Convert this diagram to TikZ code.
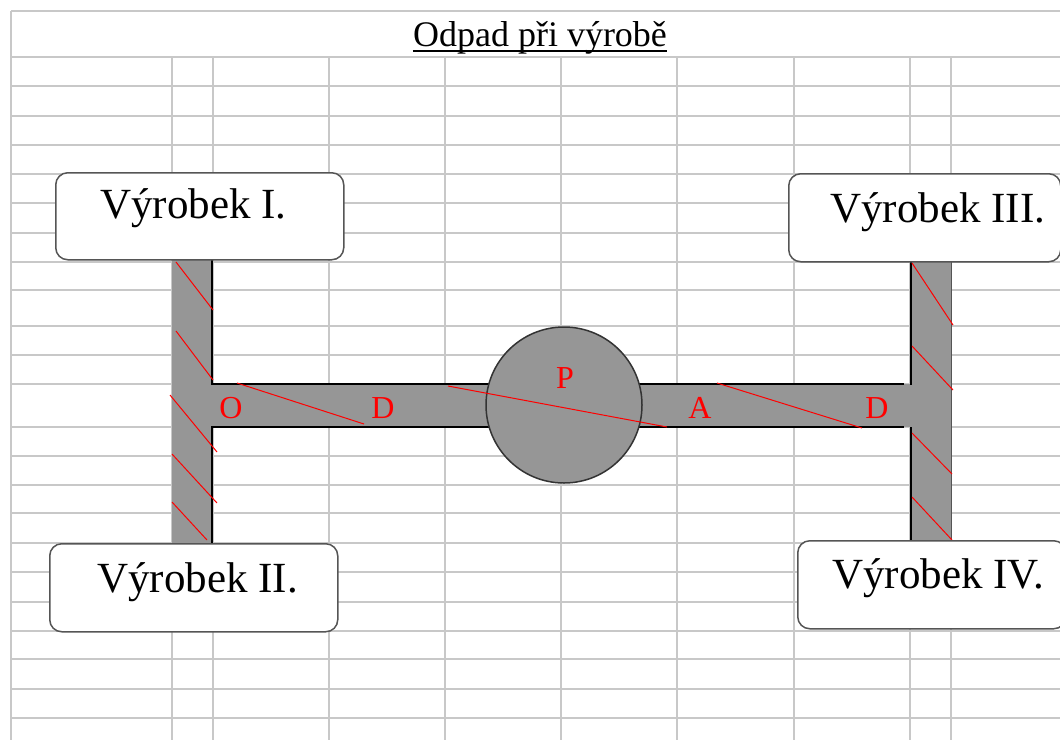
\documentclass[tikz,border=0pt]{standalone}
\usepackage{fontspec}
\setmainfont{Liberation Serif}
\definecolor{gridgray}{RGB}{200,200,200}
\definecolor{pipegray}{RGB}{150,150,150}
\definecolor{boxline}{RGB}{85,85,85}
\begin{document}
\begin{tikzpicture}[x=1pt,y=-1pt,
  gridline/.style={draw=gridgray, line width=1.8pt},
  vgridline/.style={draw=gridgray, line width=1.4pt},
  pipe/.style={fill=pipegray, draw=none},
  edgeline/.style={draw=black, line width=2.4pt},
  hatch/.style={draw=red, line width=1pt},
  box/.style={draw=boxline, line width=1.5pt, fill=white, rounded corners=12pt, inner sep=0, anchor=north west},
  boxtext/.style={font=\fontsize{43}{48}\selectfont, anchor=base west, inner sep=0},
  redlbl/.style={font=\fontsize{32}{36}\selectfont, text=red, anchor=base, inner sep=0}
]
% canvas
\fill[white] (0,0) rectangle (1060,740);
\useasboundingbox (0,0) rectangle (1060,740);

% grid
\draw[gridline] (11,11) -- (1060,11);
\foreach \yy in {57,86,116,145,174,203,233,262,290,326,355,384,427,456,485,513,543,572,602,631,659,689,718}
  \draw[gridline] (11,\yy) -- (1060,\yy);
\draw[gridline] (11,11) -- (11,740);
\foreach \xx in {172,213,329,445,561,677,794,910,951}
  \draw[vgridline] (\xx,57) -- (\xx,740);

% title
\node[font=\fontsize{36}{40}\selectfont, anchor=base, inner sep=0] (title) at (540,46) {Odpad při výrobě};
\draw[line width=1.8pt] ([yshift=-5pt]title.base west) -- ([yshift=-5pt]title.base east);

% pipes
\fill[pipe] (172,250) rectangle (212,550);
\fill[pipe] (212,384) rectangle (500,427);
\fill[pipe] (630,384) rectangle (911,427);
\fill[pipe] (911,250) rectangle (951,550);

% pipe outlines
\draw[edgeline] (212,255) -- (212,384);
\draw[edgeline] (212,427) -- (212,545);
\draw[edgeline] (211,384) -- (540,384);
\draw[edgeline] (211,427) -- (540,427);
\draw[edgeline] (590,384) -- (904,384);
\draw[edgeline] (590,427) -- (904,427);
\draw[edgeline] (911,255) -- (911,385);
\draw[edgeline] (911,427) -- (911,545);
\draw[draw=boxline, line width=1pt] (951,255) -- (951,545);

% central circle
\node[circle, fill=pipegray, draw=black!80, line width=1.5pt, minimum size=156pt, inner sep=0] (p) at (564,405) {};

% hatching
\draw[hatch] (176,262) -- (213,310);
\draw[hatch] (176,331) -- (213,380);
\draw[hatch] (170,395) -- (217,452);
\draw[hatch] (172,454) -- (217,503);
\draw[hatch] (172,502) -- (207,540);
\draw[hatch] (237,383) -- (364,424);
\draw[hatch] (448,386) -- (667,427);
\draw[hatch] (717,383) -- (862,428);
\draw[hatch] (912,263) -- (953,325);
\draw[hatch] (912,346) -- (953,390);
\draw[hatch] (912,433) -- (952,474);
\draw[hatch] (912,497) -- (952,540);

% red labels
\node[redlbl] (lo) at (231,418) {O};
\node[redlbl] (ld1) at (383,418) {D};
\node[redlbl] (lp) at (565,388) {P};
\node[redlbl] (la) at (700,418) {A};
\node[redlbl] (ld2) at (877,418) {D};

% boxes
\node[box, minimum width=288pt, minimum height=87pt] (b1) at (55,172) {};
\node[box, minimum width=288pt, minimum height=88pt] (b2) at (49,543) {};
\node[box, minimum width=272pt, minimum height=88pt] (b3) at (788,173) {};
\node[box, minimum width=268pt, minimum height=88pt] (b4) at (797,540) {};
\node[boxtext] (t1) at (100,218) {Výrobek I.};
\node[boxtext] (t2) at (97,592) {Výrobek II.};
\node[boxtext] (t3) at (830,222) {Výrobek III.};
\node[boxtext] (t4) at (832,588) {Výrobek IV.};
\end{tikzpicture}
\end{document}
